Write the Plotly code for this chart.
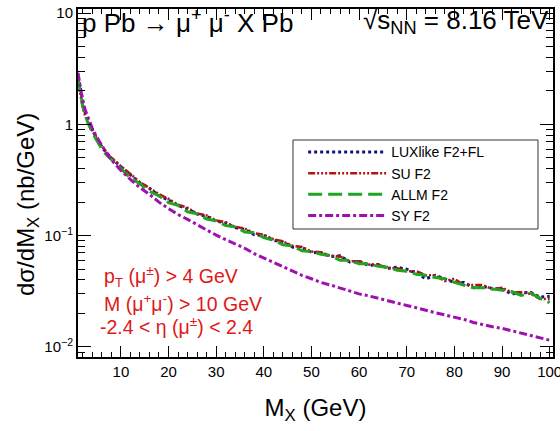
import plotly.graph_objects as go

# M_X values (GeV)
mx = [1, 1.5, 2, 2.5, 3, 4, 5, 6, 7, 8, 9, 10,
      12, 14, 16, 18, 20, 22, 24, 26, 28, 30, 32, 34, 36, 38, 40,
      42, 44, 46, 48, 50, 52, 54, 56, 58, 60, 62, 64, 66, 68, 70,
      72, 74, 76, 78, 80, 82, 84, 86, 88, 90, 92, 94, 96, 98, 100]

lux = [2.7, 2.1, 1.55, 1.28, 1.1, 0.88, 0.73, 0.63, 0.55, 0.50, 0.455, 0.415,
       0.352, 0.298, 0.266, 0.229, 0.209, 0.186, 0.174, 0.156, 0.149, 0.135, 0.130, 0.118, 0.114, 0.102, 0.100,
       0.091, 0.088, 0.079, 0.078, 0.071, 0.070, 0.065, 0.066, 0.058, 0.059, 0.054, 0.055, 0.051, 0.052, 0.050,
       0.046, 0.041, 0.044, 0.041, 0.038, 0.038, 0.034, 0.035, 0.0335, 0.033, 0.030, 0.0305, 0.031, 0.028, 0.0285]

su = [2.5, 1.9, 1.40, 1.20, 1.06, 0.87, 0.74, 0.64, 0.56, 0.50, 0.46, 0.42,
      0.358, 0.302, 0.268, 0.236, 0.214, 0.190, 0.178, 0.158, 0.152, 0.137, 0.132, 0.120, 0.116, 0.105, 0.102,
      0.093, 0.089, 0.081, 0.079, 0.072, 0.071, 0.066, 0.065, 0.059, 0.059, 0.055, 0.055, 0.051, 0.051, 0.048,
      0.048, 0.044, 0.044, 0.039, 0.041, 0.036, 0.036, 0.036, 0.033, 0.034, 0.031, 0.031, 0.030, 0.027, 0.027]

allm = [2.6, 2.0, 1.45, 1.22, 1.05, 0.84, 0.70, 0.60, 0.53, 0.48, 0.44, 0.40,
        0.330, 0.292, 0.250, 0.228, 0.198, 0.187, 0.164, 0.157, 0.141, 0.136, 0.123, 0.120, 0.108, 0.106, 0.096,
        0.091, 0.083, 0.081, 0.073, 0.072, 0.068, 0.066, 0.060, 0.060, 0.056, 0.056, 0.053, 0.052, 0.049, 0.048,
        0.045, 0.044, 0.042, 0.041, 0.038, 0.036, 0.034, 0.034, 0.033, 0.032, 0.0315, 0.029, 0.0305, 0.0275, 0.025]

sy = [2.9, 2.2, 1.6, 1.35, 1.2, 0.92, 0.76, 0.64, 0.55, 0.48, 0.43, 0.385,
      0.32, 0.27, 0.235, 0.20, 0.175, 0.155, 0.14, 0.125, 0.112, 0.101, 0.092, 0.084, 0.077, 0.069, 0.063,
      0.057, 0.052, 0.048, 0.044, 0.041, 0.038, 0.036, 0.034, 0.032, 0.030, 0.0288, 0.0275, 0.026, 0.0248, 0.0236,
      0.0225, 0.0213, 0.0203, 0.0194, 0.0186, 0.0177, 0.0166, 0.0158, 0.0152, 0.0147, 0.0140, 0.0134, 0.0127, 0.0121, 0.0115]

series_names = ["LUXlike F2+FL", "SU F2", "ALLM F2", "SY F2"]
y_tickvals = [0.01, 0.1, 1, 10]
y_ticktext = ["10<sup>\u22122</sup>", "10<sup>\u22121</sup>", "1", "10"]
x_tickvals = [10, 20, 30, 40, 50, 60, 70, 80, 90, 100]

FONT = "Liberation Sans, Arial, sans-serif"

fig = go.Figure()
styles = [
    (lux, "#14147f", "dot", 3),
    (su, "#b01414", "7px,2px,2px,2px,2px,2px,2px,2px", 2.5),
    (allm, "#1fa51f", "14px,6px", 3),
    (sy, "#a010b0", "8px,3px,3px,3px", 3),
]
for name, (vals, col, dash, w) in zip(series_names, styles):
    fig.add_trace(go.Scatter(x=mx, y=vals, mode="lines", name=name,
                             line=dict(color=col, dash=dash, width=w)))

fig.update_layout(
    width=560, height=431,
    margin=dict(l=78, r=7, t=9, b=74),
    paper_bgcolor="white", plot_bgcolor="white",
    font=dict(family=FONT, color="black"),
    showlegend=True,
    legend=dict(x=0.474, y=0.634, xanchor="left", yanchor="top",
                bgcolor="rgba(0,0,0,0)", borderwidth=0,
                font=dict(size=14, family=FONT), itemwidth=78,
                tracegroupgap=0),
    shapes=[dict(type="rect", xref="paper", yref="paper",
                 x0=0.4526, x1=0.9684, y0=0.3678, y1=0.6236,
                 line=dict(color="#333", width=1), fillcolor="white", layer="above")],
    xaxis=dict(
        range=[1, 100.7], tickvals=x_tickvals, automargin=False,
        ticklabeloverflow="allow",
        ticks="inside", ticklen=11, tickwidth=1, tickcolor="black",
        minor=dict(ticks="inside", ticklen=5, dtick=2, tick0=0, tickcolor="black"),
        showline=True, linewidth=2, linecolor="black", mirror="allticks",
        showgrid=False, zeroline=False,
        tickfont=dict(size=15),
        title=dict(text="M<sub>X</sub> (GeV)", font=dict(size=24), standoff=20),
    ),
    yaxis=dict(
        type="log", range=[-2.09, 1.036], automargin=False,
        ticklabeloverflow="allow",
        tickvals=y_tickvals, ticktext=y_ticktext,
        ticks="inside", ticklen=13, tickwidth=1, tickcolor="black",
        minor=dict(ticks="inside", ticklen=7, dtick="D1", tickcolor="black"),
        showline=True, linewidth=2, linecolor="black", mirror="allticks",
        showgrid=False, zeroline=False,
        tickfont=dict(size=15),
    ),
)

fig.add_annotation(xref="paper", yref="paper", x=-0.105, y=0.437, xanchor="center", yanchor="middle",
                   text="d\u03c3/dM<sub>X</sub> (nb/GeV)", textangle=-90, showarrow=False,
                   font=dict(size=24, family=FONT, color="black"))

fig.add_annotation(xref="paper", yref="paper", x=0.004, y=0.963, xanchor="left", yanchor="middle",
                   text="p Pb \u2192 \u03bc<sup>+</sup> \u03bc<sup>-</sup> X Pb", showarrow=False,
                   font=dict(size=26, family=FONT, color="black"))
fig.add_annotation(xref="paper", yref="paper", x=0.996, y=0.963, xanchor="right", yanchor="middle",
                   text="\u221as<sub>NN</sub> = 8.16 TeV", showarrow=False,
                   font=dict(size=26, family=FONT, color="black"))

red_lines = ["p<sub>T</sub> (\u03bc<sup>\u00b1</sup>) &gt; 4 GeV",
             "M (\u03bc<sup>+</sup>\u03bc<sup>-</sup>) &gt; 10 GeV",
             "-2.4 &lt; \u03b7 (\u03bc<sup>\u00b1</sup>) &lt; 2.4"]
red_pos = [(0.05, 0.232), (0.05, 0.155), (0.042, 0.089)]
for t, (px, py) in zip(red_lines, red_pos):
    fig.add_annotation(xref="paper", yref="paper", x=px, y=py, xanchor="left", yanchor="middle",
                       text=t, showarrow=False,
                       font=dict(size=19.5, family=FONT, color="#e01818"))

fig.write_html("out.html", config={"displayModeBar": False},
               post_script="document.body.style.margin='0';")
